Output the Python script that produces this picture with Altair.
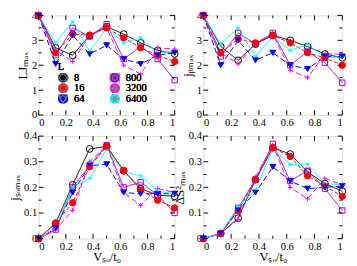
import altair as alt
import pandas as pd

# ---------------- data ----------------
x_vals = [0, 0.125, 0.25, 0.375, 0.5, 0.625, 0.75, 0.875, 1.0]
series_L = ["8", "16", "64", "800", "3200", "6400"]
filled_L = ["16", "64"]

# LJ_max
lj_8 = [4, 2.7, 2.4, 3.2, 3.55, 3.25, 2.9, 2.6, 2.45]
lj_16 = [4, 2.5, 3.25, 3.2, 3.5, 3.1, 2.7, 2.4, 2.15]
lj_64 = [4, 2.05, 3.2, 2.45, 2.8, 2.25, 2.05, 2.4, 2.5]
lj_800 = [4, 2.4, 3.5, 3.15, 3.65, 2.25, 2.75, 2.25, 1.4]
lj_3200 = [4, 2.6, 2.15, 3.2, 3.5, 2.0, 1.65, 2.7, 2.65]
lj_6400 = [4, 2.9, 3.75, 2.55, 3.5, 2.9, 3.1, 2.5, 2.55]

# j_b max
jb_8 = [4, 2.75, 2.2, 2.85, 3.2, 3.0, 2.75, 2.45, 2.3]
jb_16 = [4, 2.5, 3.05, 2.9, 3.2, 2.9, 2.5, 2.3, 2.0]
jb_64 = [4, 2.0, 3.0, 2.2, 2.5, 2.0, 1.85, 2.35, 2.35]
jb_800 = [4, 2.35, 3.3, 2.85, 3.3, 2.0, 2.55, 2.1, 1.3]
jb_3200 = [4, 2.5, 2.05, 2.9, 3.25, 1.8, 1.5, 2.45, 2.45]
jb_6400 = [4, 2.85, 3.5, 2.35, 3.15, 2.6, 2.85, 2.3, 2.35]

# j_SO max
jso_8 = [0, 0.06, 0.21, 0.35, 0.36, 0.265, 0.195, 0.17, 0.165]
jso_16 = [0, 0.06, 0.14, 0.28, 0.36, 0.265, 0.19, 0.15, 0.12]
jso_64 = [0, 0.04, 0.18, 0.285, 0.29, 0.18, 0.175, 0.175, 0.175]
jso_800 = [0, 0.035, 0.2, 0.285, 0.365, 0.2, 0.22, 0.17, 0.1]
jso_3200 = [0, 0.035, 0.11, 0.3, 0.365, 0.18, 0.13, 0.195, 0.18]
jso_6400 = [0, 0.045, 0.2, 0.235, 0.35, 0.26, 0.245, 0.185, 0.175]

# Delta S^2 max
ds_8 = [0, 0.02, 0.08, 0.23, 0.355, 0.33, 0.26, 0.215, 0.185]
ds_16 = [0, 0.02, 0.11, 0.23, 0.355, 0.32, 0.245, 0.205, 0.165]
ds_64 = [0, 0.02, 0.11, 0.18, 0.28, 0.225, 0.195, 0.2, 0.205]
ds_800 = [0, 0.02, 0.12, 0.23, 0.37, 0.225, 0.265, 0.195, 0.11]
ds_3200 = [0, 0.02, 0.075, 0.24, 0.365, 0.2, 0.155, 0.235, 0.21]
ds_6400 = [0, 0.02, 0.125, 0.19, 0.35, 0.29, 0.29, 0.215, 0.21]

x_major = [0, 0.2, 0.4, 0.6, 0.8, 1.0]
x_minor = [0.1, 0.3, 0.5, 0.7, 0.9]
y_major_top = [0, 1, 2, 3, 4]
y_minor_top = [0.5, 1.5, 2.5, 3.5]
y_major_bot = [0, 0.1, 0.2, 0.3, 0.4]
y_minor_bot = [0.05, 0.15, 0.25, 0.35]

# ---------------- styles ----------------
style = {
    "8": dict(color="#000000", dash=[1, 0], shape="circle", size=50),
    "16": dict(color="#ff0000", dash=[4, 2], shape="circle", size=18),
    "64": dict(color="#0000ff", dash=[6, 3], shape="triangle-down", size=22),
    "800": dict(color="#9400d3", dash=[1, 0], shape="square", size=45),
    "3200": dict(color="#ff00ff", dash=[6, 3], shape="M-1,0L1,0M0,-1L0,1", size=56),
    "6400": dict(color="#00ffff", dash=[1, 0],
                 shape="M-1,0L1,0M-0.5,-0.87L0.5,0.87M-0.5,0.87L0.5,-0.87", size=56),
}
FONT = "Liberation Serif"


def make_df(lists):
    rows = []
    for lab, vals in zip(series_L, lists):
        for xv, yv in zip(x_vals, vals):
            rows.append({"x": xv, "v": yv, "L": lab})
    return pd.DataFrame(rows)


def rng(key):
    return alt.Scale(range=[style[k][key] for k in series_L])


def panel(lists, ytitle, ymax, ymaj, ymin, w, h, xtitle, legend):
    df = make_df(lists)
    xs = alt.Scale(domain=[0, 1], nice=False, zero=False)
    ys = alt.Scale(domain=[0, ymax], nice=False)
    xaxis = alt.Axis(values=x_major, format="~g", ticks=False, domain=False, grid=False,
                     labelFont=FONT, labelFontSize=11, labelPadding=2, labelColor="black",
                     titleFont=FONT, titleFontSize=13, titleFontWeight="normal",
                     titlePadding=0, titleColor="black", title=xtitle)
    yaxis = alt.Axis(values=ymaj, format="~g", ticks=False, domain=False, grid=False,
                     labelFont=FONT, labelFontSize=11, labelPadding=2, labelColor="black",
                     titleFont=FONT, titleFontSize=13, titleFontWeight="normal",
                     titlePadding=2, titleColor="black", title=ytitle)
    X = alt.X("x:Q", scale=xs, axis=xaxis)
    Y = alt.Y("v:Q", scale=ys, axis=yaxis)

    if legend:
        leg = alt.Legend(orient="none", legendX=20, legendY=48, columns=2, clipHeight=10,
                         rowPadding=0, columnPadding=26, labelFont=FONT, labelFontSize=11,
                         labelOffset=6, labelColor="black",
                         titleFont=FONT, titleFontSize=11, titleFontWeight="normal",
                         titleColor="black", titlePadding=1, symbolStrokeWidth=1,
                         title="\u00a0" * 8 + "L")
        s_kw = dict(legend=leg)
    else:
        s_kw = dict(legend=None)

    base = alt.Chart(df)
    # lines use the stroke channel so they never interfere with the marker legend
    line = base.mark_line(strokeWidth=1).encode(
        x=X, y=Y,
        stroke=alt.Stroke("L:N", sort=series_L, scale=rng("color"), legend=None),
        strokeDash=alt.StrokeDash("L:N", sort=series_L, scale=rng("dash"), legend=None),
    )
    # outlined markers for every series (these carry the legend)
    pts = base.mark_point(strokeWidth=1, opacity=1, filled=False).encode(
        x=X, y=Y,
        color=alt.Color("L:N", sort=series_L, scale=rng("color"), **s_kw),
        shape=alt.Shape("L:N", sort=series_L, scale=rng("shape"), **s_kw),
        size=alt.Size("L:N", sort=series_L, scale=rng("size"), **s_kw),
    )
    # solid markers for the filled series
    solid = base.transform_filter(
        alt.FieldOneOfPredicate(field="L", oneOf=filled_L)
    ).mark_point(opacity=1, filled=True).encode(
        x=X, y=Y,
        color=alt.Color("L:N", sort=series_L, scale=rng("color"), **s_kw),
        shape=alt.Shape("L:N", sort=series_L, scale=rng("shape"), **s_kw),
        size=alt.Size("L:N", sort=series_L, scale=rng("size"), **s_kw),
    )

    layers = [line, pts, solid]
    for vals, ln in [(x_major, 5), (x_minor, 3)]:
        t = alt.Chart(pd.DataFrame({"x": vals}))
        layers.append(t.mark_rule(color="black", strokeWidth=1).encode(
            x=X, y=alt.value(h), y2=alt.value(h - ln)))
        layers.append(t.mark_rule(color="black", strokeWidth=1).encode(
            x=X, y=alt.value(0), y2=alt.value(ln)))
    for vals, ln in [(ymaj, 5), (ymin, 3)]:
        t = alt.Chart(pd.DataFrame({"v": vals}))
        layers.append(t.mark_rule(color="black", strokeWidth=1).encode(
            y=Y, x=alt.value(0), x2=alt.value(ln)))
        layers.append(t.mark_rule(color="black", strokeWidth=1).encode(
            y=Y, x=alt.value(w), x2=alt.value(w - ln)))

    return alt.layer(*layers).properties(width=w, height=h)


p1 = panel([lj_8, lj_16, lj_64, lj_800, lj_3200, lj_6400], "LJₘₐₓ", 4,
           y_major_top, y_minor_top, 142, 104, "", True)
p2 = panel([jb_8, jb_16, jb_64, jb_800, jb_3200, jb_6400], "jᵦₘₐₓ", 4,
           y_major_top, y_minor_top, 145, 104, "", False)
p3 = panel([jso_8, jso_16, jso_64, jso_800, jso_3200, jso_6400], "jₛₒₘₐₓ", 0.4,
           y_major_bot, y_minor_bot, 142, 107, "Vₛₒ/t₀", False)
p4 = panel([ds_8, ds_16, ds_64, ds_800, ds_3200, ds_6400], "ΔS²ₘₐₓ", 0.4,
           y_major_bot, y_minor_bot, 145, 107, "Vₛₒ/t₀", False)

chart = alt.concat(p1, p2, p3, p4, columns=2, spacing={"row": 22, "column": 30},
                   bounds="flush").properties(
    padding={"left": 0, "top": -5, "right": 0, "bottom": 0}
).resolve_legend(
    color="independent", strokeDash="independent", shape="independent", size="independent",
    stroke="independent"
).configure_view(stroke="black", strokeWidth=1).configure(background="white")

chart.save("out.html", embed_options={"renderer": "svg", "actions": False})
